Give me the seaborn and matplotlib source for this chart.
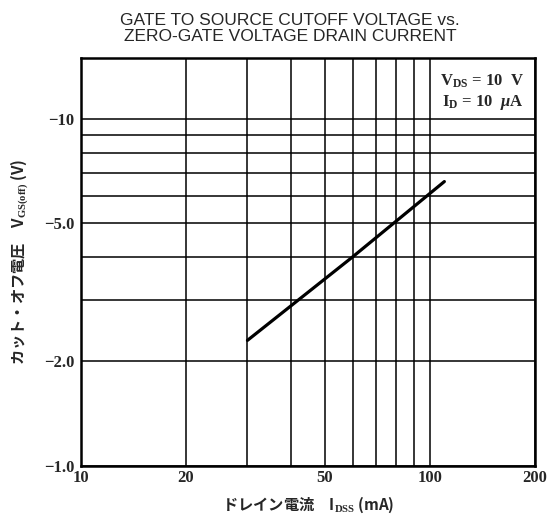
import matplotlib
matplotlib.use("Agg")
import matplotlib.pyplot as plt
import seaborn as sns
import pandas as pd
import numpy as np

# Data
idss_ma = [30, 60, 110]          # drain current I_DSS (mA)
vgs_off = [-2.3, -4.0, -6.6]     # cutoff voltage V_GS(off) (V)

x_major = [10, 20, 50, 100, 200]
x_major_labels = ["10", "20", "50", "100", "200"]
x_minor = [30, 40, 60, 70, 80, 90]
y_major = [1, 2, 5, 10]
y_major_labels = ["\u22121.0", "\u22122.0", "\u22125.0", "\u221210"]
y_minor = [3, 4, 6, 7, 8, 9]

title = "GATE TO SOURCE CUTOFF VOLTAGE vs.\nZERO-GATE VOLTAGE DRAIN CURRENT"
xlabel = "ドレイン電流　I$_{\\rm DSS}$ (mA)"
ylabel = "カット・オフ電圧　V$_{\\rm GS(off)}$ (V)"
cond_text = "V$_{\\rm DS}$ = 10  V\nI$_{\\rm D}$ = 10  $\\mu$A"

sns.set_theme(style="white")
plt.rcParams['font.family'] = ['DejaVu Sans', 'Noto Sans CJK JP']
plt.rcParams['mathtext.fontset'] = 'custom'
plt.rcParams['mathtext.rm'] = 'Liberation Serif:bold'
plt.rcParams['mathtext.it'] = 'Liberation Serif:bold:italic'
plt.rcParams['mathtext.bf'] = 'Liberation Serif:bold'

df = pd.DataFrame({"idss": idss_ma, "vgs": np.abs(vgs_off)})

fig = plt.figure(figsize=(5.47, 5.17), dpi=100)
ax = fig.add_axes([0.148, 0.099, 0.83, 0.789])

sns.lineplot(data=df, x="idss", y="vgs", ax=ax, color="black", linewidth=2.3, zorder=3)

ax.set_xscale("log")
ax.set_yscale("log")
ax.set_xlim(10, 200)
ax.set_ylim(1, 15)

ax.set_xticks(x_major)
ax.set_xticklabels(x_major_labels)
ax.set_xticks(x_minor, minor=True)
ax.set_xticklabels([], minor=True)
ax.set_yticks(y_major)
ax.set_yticklabels(y_major_labels)
ax.set_yticks(y_minor, minor=True)
ax.set_yticklabels([], minor=True)

ax.grid(True, which="both", color="black", linewidth=1.1)
ax.tick_params(which="both", length=0)
ax.tick_params(axis="x", pad=3)
ax.tick_params(axis="y", pad=5)
for lab in ax.get_xticklabels():
    lab.set_fontfamily("Liberation Serif")
    lab.set_fontweight("bold")
    lab.set_fontsize(12)
for lab in ax.get_yticklabels():
    lab.set_fontfamily("Liberation Serif")
    lab.set_fontweight("bold")
    lab.set_fontsize(12)

for s in ax.spines.values():
    s.set_color("black")
    s.set_linewidth(1.8)
    s.set_visible(True)

ax.set_xlabel(xlabel, fontsize=11, family=['Noto Sans CJK JP', 'DejaVu Sans'],
              fontweight="bold", labelpad=6)
ax.set_ylabel(ylabel, fontsize=11, family=['Noto Sans CJK JP', 'DejaVu Sans'],
              fontweight="bold", labelpad=10)

fig.text(0.53, 0.945, title, ha="center", va="center", fontsize=12.5,
         family="Liberation Sans", linespacing=1.15)

ax.text(0.975, 0.965, cond_text, transform=ax.transAxes, ha="right", va="top",
        fontsize=12, family="Liberation Serif", fontweight="bold", linespacing=1.25)

fig.savefig("out.png", dpi=100)
